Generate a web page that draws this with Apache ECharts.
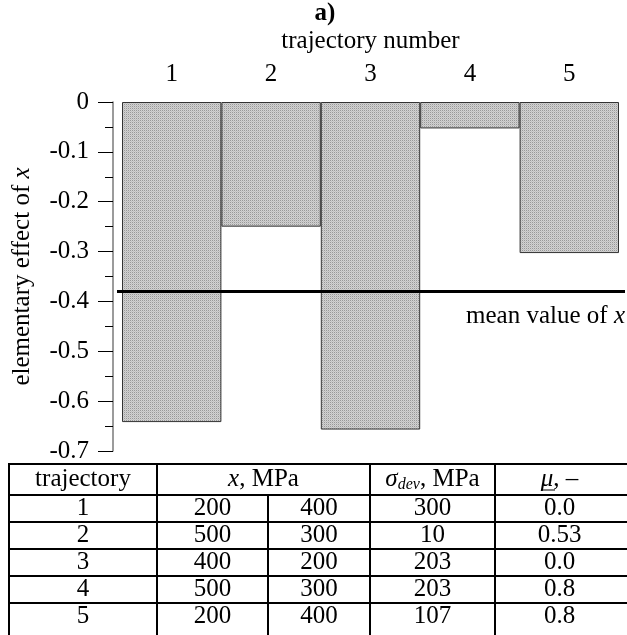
<!DOCTYPE html>
<html>
<head>
<meta charset="utf-8">
<script src="https://cdn.jsdelivr.net/npm/echarts@6/dist/echarts.min.js"></script>
<style>
  html, body { margin: 0; padding: 0; background: #fff; }
  #chart { width: 627px; height: 635px; }
</style>
</head>
<body>
<div id="chart"></div>
<script>
// ---- data ----
const categories = ['1', '2', '3', '4', '5'];
const elementaryEffects = [-0.642, -0.25, -0.657, -0.053, -0.303];
const meanValue = -0.38;

// table
const tableTrajectory = ['1', '2', '3', '4', '5'];
const tableXFrom = ['200', '500', '400', '500', '200'];
const tableXTo = ['400', '300', '200', '300', '400'];
const tableSigmaDev = ['300', '10', '203', '203', '107'];
const tableMu = ['0.0', '0.53', '0.0', '0.8', '0.8'];

const FONT = '"Liberation Serif", "Times New Roman", serif';
const FS = 25;

// dotted grey fill pattern
function makePattern() {
  const c = document.createElement('canvas');
  c.width = 2; c.height = 2;
  const ctx = c.getContext('2d');
  ctx.fillStyle = '#d2d2d2';
  ctx.fillRect(0, 0, 2, 2);
  ctx.fillStyle = '#989898';
  ctx.fillRect(0, 0, 1, 1);
  ctx.fillStyle = '#c0c0c0';
  ctx.fillRect(1, 1, 1, 1);
  return c;
}

// ---- table geometry ----
const colX = [9, 157, 370, 495, 628];
const xSplit = 268;
const rowY = [464, 495, 522, 549, 576, 603, 637];

const richBase = {
  n: { fontFamily: FONT, fontSize: FS, color: '#000' },
  i: { fontFamily: FONT, fontSize: FS, fontStyle: 'italic', color: '#000' },
  sub: { fontFamily: FONT, fontSize: 16, fontStyle: 'italic', color: '#000', padding: [11, 0, 0, 0] }
};

function tableGraphics() {
  const els = [];
  const lw = 2;
  const line = (x1, y1, x2, y2, w) => els.push({
    type: 'line', silent: true,
    shape: { x1, y1, x2, y2 },
    style: { stroke: '#000', lineWidth: w || lw }
  });
  rowY.forEach(y => line(colX[0] - 1, y, 630, y));
  colX.forEach(x => line(x, rowY[0], x, rowY[rowY.length - 1]));
  line(xSplit, rowY[1], xSplit, rowY[rowY.length - 1]);

  const text = (x, y, t) => els.push({
    type: 'text', silent: true, x, y,
    style: {
      text: t, fill: '#000', fontFamily: FONT, fontSize: FS,
      align: 'center', verticalAlign: 'middle', rich: richBase
    }
  });
  const hy = (rowY[0] + rowY[1]) / 2;
  text((colX[0] + colX[1]) / 2, hy, '{n|trajectory}');
  text((colX[1] + colX[2]) / 2, hy, '{i|x}{n|, MPa}');
  text((colX[2] + colX[3]) / 2, hy, '{i|σ}{sub|dev}{n|, MPa}');
  text((colX[3] + colX[4]) / 2 - 2, hy, '{i|μ}{n|, –}');
  // underline of mu
  line(541, 490, 555, 490, 1);
  for (let r = 0; r < tableTrajectory.length; r++) {
    const cy = rowY[r + 1] + 13.5;
    text((colX[0] + colX[1]) / 2, cy, '{n|' + tableTrajectory[r] + '}');
    text((colX[1] + xSplit) / 2, cy, '{n|' + tableXFrom[r] + '}');
    text((xSplit + colX[2]) / 2, cy, '{n|' + tableXTo[r] + '}');
    text((colX[2] + colX[3]) / 2, cy, '{n|' + tableSigmaDev[r] + '}');
    text((colX[3] + colX[4]) / 2 - 2, cy, '{n|' + tableMu[r] + '}');
  }
  return els;
}

const chart = echarts.init(document.getElementById('chart'), null, { renderer: 'canvas' });
const option = {
  animation: false,
  backgroundColor: '#fff',
  textStyle: { fontFamily: FONT, color: '#000' },
  title: {
    text: 'a)',
    left: 320,
    top: -4,
    textAlign: 'center',
    textStyle: { fontFamily: FONT, fontSize: FS, fontWeight: 'bold', color: '#000' }
  },
  grid: { left: 122, right: 8, top: 102, bottom: 184 },
  xAxis: {
    type: 'category',
    position: 'top',
    data: categories,
    boundaryGap: true,
    axisLine: { show: false },
    axisTick: { show: false },
    axisLabel: { fontFamily: FONT, fontSize: FS, color: '#000', margin: 15 },
    name: 'trajectory number',
    nameLocation: 'middle',
    nameGap: 48,
    nameTextStyle: { fontFamily: FONT, fontSize: FS, color: '#000' }
  },
  yAxis: {
    type: 'value',
    min: -0.7,
    max: 0,
    interval: 0.1,
    offset: 9,
    splitLine: { show: false },
    axisLine: { show: true, lineStyle: { color: '#7a7a7a', width: 1.5 } },
    axisTick: { show: true, inside: false, length: 15, lineStyle: { color: '#000', width: 1 } },
    minorTick: { show: true, splitNumber: 2, length: 8, lineStyle: { color: '#000', width: 1 } },
    axisLabel: {
      fontFamily: FONT, fontSize: FS, color: '#000', margin: 24,
      formatter: v => {
        const r = Math.round(v * 10) / 10;
        return r === 0 ? '0' : r.toFixed(1);
      }
    },
    name: 'elementary effect of {i|x}',
    nameLocation: 'middle',
    nameGap: 78,
    nameTextStyle: {
      fontFamily: FONT, fontSize: FS, color: '#000',
      rich: { i: { fontFamily: FONT, fontSize: FS, fontStyle: 'italic', color: '#000' } }
    }
  },
  series: [{
    type: 'bar',
    data: elementaryEffects,
    barCategoryGap: '0%',
    barGap: '0%',
    silent: true,
    itemStyle: {
      color: { image: makePattern(), repeat: 'repeat' },
      borderColor: '#333',
      borderWidth: 1
    }
  }],
  graphic: tableGraphics()
};
chart.setOption(option);

// mean line, positioned through the value axis scale
const meanY = chart.convertToPixel({ yAxisIndex: 0 }, meanValue);
chart.setOption({
  graphic: tableGraphics().concat([
    {
      type: 'line', silent: true, z: 10,
      shape: { x1: 117, y1: meanY, x2: 625, y2: meanY },
      style: { stroke: '#000', lineWidth: 3 }
    },
    {
      type: 'text', silent: true, z: 10,
      x: 625, y: meanY + 25,
      style: {
        text: '{n|mean value of }{i|x}', fontFamily: FONT, fontSize: FS,
        align: 'right', verticalAlign: 'middle', rich: richBase
      }
    }
  ])
}, { replaceMerge: ['graphic'] });
</script>
</body>
</html>
